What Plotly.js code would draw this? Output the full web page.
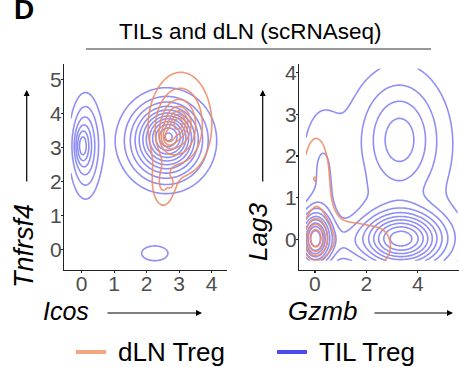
<!DOCTYPE html>
<html><head><meta charset="utf-8">
<script src="https://cdn.plot.ly/plotly-3.0.1.min.js"></script>
<style>html,body{margin:0;padding:0;background:#fff}#c{width:459px;height:367px}</style>
</head><body><div id="c"></div>
<script>
// Gaussian density components: [centerX, centerY, sdX, sdY, weight]
const leftTIL = [
  [2.60, 3.20, 0.74, 0.74, 9.0],
  [2.72, 3.40, 0.40, 0.40, 3.5],
  [0.00, 3.05, 0.14, 0.35, 2.5],
  [0.12, 3.05, 0.30, 0.90, 4.5],
  [2.25, -0.10, 0.45, 0.24, 1.5]
];
const leftDLN = [
  [3.05, 3.70, 0.60, 0.95, 3.5],
  [2.85, 3.50, 0.35, 0.50, 2.0],
  [2.65, 3.30, 0.15, 0.20, 2.5],
  [3.00, 3.75, 0.18, 0.22, 2.5],
  [2.50, 1.90, 0.25, 0.50, 1.8],
  [2.75, 1.95, 0.06, 0.10, 1.0]
];
const rightTIL = [
  [0.00, 0.00, 0.45, 0.45, 10.0],
  [1.20, -0.10, 0.50, 0.35, 1.0],
  [3.35, 0.00, 1.10, 0.45, 10.0],
  [3.30, 2.42, 1.00, 0.93, 3.7],
  [3.00, 1.80, 2.50, 2.00, 0.9],
  [0.25, 1.65, 0.55, 1.00, 1.6],
  [1.50, 1.15, 0.60, 0.30, 0.5]
];
const rightDLN = [
  [0.00, 0.00, 0.30, 0.30, 4.0],
  [0.10, 0.10, 0.60, 0.60, 1.2],
  [0.05, 1.50, 0.50, 0.95, 1.6],
  [1.60, -0.10, 0.85, 0.45, 1.7],
  [2.60, -0.20, 0.35, 0.35, 0.8],
  [0.00, 1.45, 0.05, 0.05, 0.5]
];
const gridLeft = {x: [-0.33, 4.45], y: [-0.45, 5.35]};
const gridRight = {x: [-0.35, 5.55], y: [-0.52, 4.1]};
const xTicksLeft = [0, 1, 2, 3, 4];
const yTicksLeft = [0, 1, 2, 3, 4, 5];
const xTicksRight = [0, 2, 4];
const yTicksRight = [0, 1, 2, 3, 4];
const seriesNames = ['dLN Treg', 'TIL Treg'];
const seriesColors = ['#F4A582', '#4B4BF0'];

function lin(a, b, n) { const o = []; for (let i = 0; i < n; i++) o.push(a + (b - a) * i / (n - 1)); return o; }
function dens(comps, g) {
  const xs = lin(g.x[0], g.x[1], 150), ys = lin(g.y[0], g.y[1], 150);
  const z = ys.map(y => xs.map(x => comps.reduce((s, c) =>
    s + c[4] * Math.exp(-0.5 * ((x - c[0]) / c[2]) ** 2 - 0.5 * ((y - c[1]) / c[3]) ** 2), 0)));
  return {x: xs, y: ys, z: z};
}
function ctr(comps, g, color, op, xa, ya) {
  const d = dens(comps, g);
  return {type: 'contour', x: d.x, y: d.y, z: d.z, xaxis: xa, yaxis: ya,
    contours: {coloring: 'lines', start: 1, end: 30, size: 1},
    colorscale: [[0, color], [1, color]], showscale: false, opacity: op,
    line: {width: 1.6, smoothing: 1}, hoverinfo: 'skip', showlegend: false};
}
const data = [
  ctr(leftTIL, gridLeft, seriesColors[1], 0.62, 'x', 'y'),
  ctr(leftDLN, gridLeft, '#EE8A64', 0.88, 'x', 'y'),
  ctr(rightTIL, gridRight, seriesColors[1], 0.62, 'x2', 'y2'),
  ctr(rightDLN, gridRight, '#EE8A64', 0.88, 'x2', 'y2')
];
const W = 459, H = 367;
const px = v => v / W, py = v => 1 - v / H;
const F = 'Liberation Sans, Arial, Helvetica, sans-serif';
const axBase = {showgrid: false, zeroline: false, showline: true, linecolor: '#222', linewidth: 1.2,
  ticks: 'outside', ticklen: 2, tickcolor: '#222', tickwidth: 1.2,
  tickfont: {family: F, size: 21, color: '#4D4D4D'}, fixedrange: true};
const xAx = Object.assign({}, axBase, {ticklabelstandoff: -7});
const yAx = Object.assign({}, axBase, {ticklabelstandoff: -5});
const legendX = [76, 277];
const annotations = [
  {text: '<b>D</b>', xref: 'paper', yref: 'paper', x: px(12), y: py(27), xanchor: 'left', yanchor: 'bottom', showarrow: false, font: {family: F, size: 28, color: '#000'}},
  {text: 'TILs and dLN (scRNAseq)', xref: 'paper', yref: 'paper', x: px(250), y: py(32), xanchor: 'center', yanchor: 'middle', showarrow: false, font: {family: F, size: 22.5, color: '#000'}},
  {text: '<i>Tnfrsf4</i>', xref: 'paper', yref: 'paper', x: px(24), y: py(246), textangle: -90, xanchor: 'center', yanchor: 'middle', showarrow: false, font: {family: F, size: 27, color: '#000'}},
  {text: '<i>Icos</i>', xref: 'paper', yref: 'paper', x: px(66), y: py(311), xanchor: 'center', yanchor: 'middle', showarrow: false, font: {family: F, size: 25, color: '#000'}},
  {text: '<i>Lag3</i>', xref: 'paper', yref: 'paper', x: px(258), y: py(232), textangle: -90, xanchor: 'center', yanchor: 'middle', showarrow: false, font: {family: F, size: 26, color: '#000'}},
  {text: '<i>Gzmb</i>', xref: 'paper', yref: 'paper', x: px(322), y: py(311), xanchor: 'center', yanchor: 'middle', showarrow: false, font: {family: F, size: 26, color: '#000'}},
  {text: '', xref: 'paper', yref: 'paper', x: px(26.7), y: py(90), ax: 0, ay: 93, showarrow: true, arrowhead: 2, arrowsize: 1, arrowwidth: 1.2, arrowcolor: '#000'},
  {text: '', xref: 'paper', yref: 'paper', x: px(262.7), y: py(90), ax: 0, ay: 93, showarrow: true, arrowhead: 2, arrowsize: 1, arrowwidth: 1.2, arrowcolor: '#000'},
  {text: '', xref: 'paper', yref: 'paper', x: px(202), y: py(313), ax: -96, ay: 0, showarrow: true, arrowhead: 2, arrowsize: 1, arrowwidth: 1.2, arrowcolor: '#000'},
  {text: '', xref: 'paper', yref: 'paper', x: px(453), y: py(313), ax: -80, ay: 0, showarrow: true, arrowhead: 2, arrowsize: 1, arrowwidth: 1.2, arrowcolor: '#000'}
];
const shapes = [{type: 'line', xref: 'paper', yref: 'paper', x0: px(86), x1: px(431), y0: py(49), y1: py(49), line: {color: '#333', width: 1.2}}];
seriesNames.forEach((n, i) => {
  shapes.push({type: 'line', xref: 'paper', yref: 'paper', x0: px(legendX[i]), x1: px(legendX[i] + 30), y0: py(352), y1: py(352), line: {color: seriesColors[i], width: 4}});
  annotations.push({text: n, xref: 'paper', yref: 'paper', x: px(legendX[i] + 40), y: py(352), xanchor: 'left', yanchor: 'middle', showarrow: false, font: {family: F, size: 26, color: '#000'}});
});
const layout = {
  width: W, height: H, margin: {l: 0, r: 0, t: 0, b: 0},
  paper_bgcolor: '#fff', plot_bgcolor: '#fff', showlegend: false,
  xaxis: Object.assign({}, xAx, {domain: [px(64), px(227)], range: [-0.54, 4.47], tickvals: xTicksLeft, anchor: 'y'}),
  yaxis: Object.assign({}, yAx, {domain: [py(270), py(64)], range: [-0.59, 5.45], tickvals: yTicksLeft, anchor: 'x'}),
  xaxis2: Object.assign({}, xAx, {domain: [px(299), 1], range: [-0.62, 5.6], tickvals: xTicksRight, anchor: 'y2'}),
  yaxis2: Object.assign({}, yAx, {domain: [py(270), py(64)], range: [-0.74, 4.21], tickvals: yTicksRight, anchor: 'x2'}),
  shapes: shapes, annotations: annotations
};
Plotly.newPlot('c', data, layout, {displayModeBar: false, staticPlot: true});
</script></body></html>
